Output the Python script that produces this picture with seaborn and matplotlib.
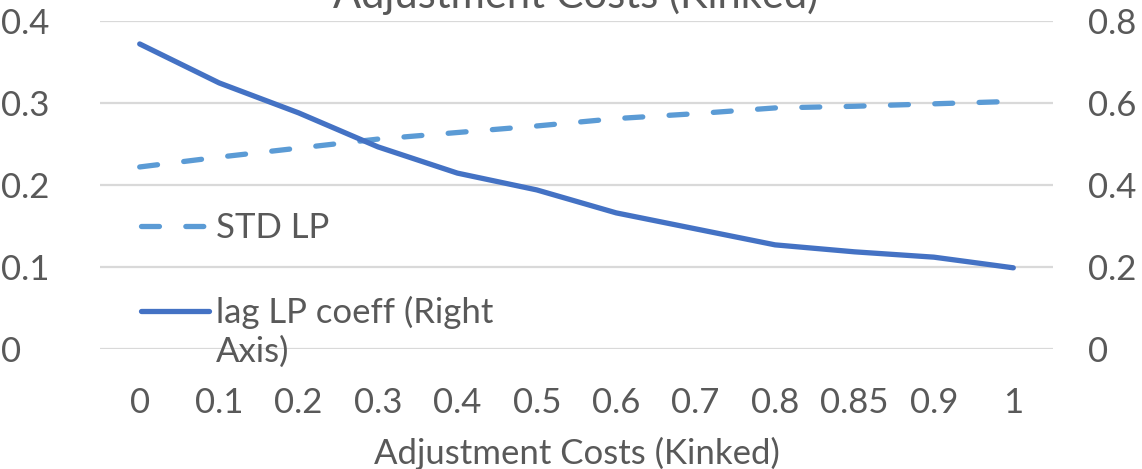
import numpy as np
import pandas as pd
import matplotlib
matplotlib.use("Agg")
import matplotlib.pyplot as plt
import seaborn as sns
from matplotlib.legend_handler import HandlerLine2D

# Data
costs = ["0", "0.1", "0.2", "0.3", "0.4", "0.5", "0.6", "0.7", "0.8", "0.85", "0.9", "1"]
std_lp = [0.222, 0.234, 0.245, 0.256, 0.264, 0.272, 0.281, 0.287, 0.294, 0.296, 0.299, 0.302]
lag_lp_coeff = [0.744, 0.649, 0.576, 0.493, 0.429, 0.388, 0.332, 0.293, 0.254, 0.237, 0.224, 0.198]
left_ticks = [0, 0.1, 0.2, 0.3, 0.4]
right_ticks = [0, 0.2, 0.4, 0.6, 0.8]

sns.set_theme(style="white")
plt.rcParams["font.family"] = ["Lato", "DejaVu Sans"]

TEXT = "#595959"
GRID = "#D9D9D9"
C_STD = "#5B9BD5"
C_LAG = "#4472C4"
FS = 25

df = pd.DataFrame({"cost": costs, "std": std_lp, "lag": lag_lp_coeff})

fig = plt.figure(figsize=(11.42, 4.69), dpi=100)
ax = fig.add_axes([100 / 1142, 1 - 349 / 469, 953 / 1142, 328 / 469])
ax2 = ax.twinx()

sns.lineplot(data=df, x="cost", y="std", ax=ax, sort=False, color=C_STD,
             linewidth=3.8, label="STD LP", legend=False)
sns.lineplot(data=df, x="cost", y="lag", ax=ax2, sort=False, color=C_LAG,
             linewidth=3.8, label="lag LP coeff (Right\nAxis)", legend=False)

std_line = ax.get_lines()[0]
std_line.set_dashes((3.4, 5.0))
std_line.set_dash_capstyle("round")
lag_line = ax2.get_lines()[0]
lag_line.set_solid_capstyle("round")
lag_line.set_solid_joinstyle("round")

ax.set_xlim(-0.5, len(costs) - 0.5)
ax.set_ylim(0, 0.4)
ax2.set_ylim(0, 0.8)
ax.set_yticks(left_ticks)
ax.set_yticklabels([f"{v:g}" for v in left_ticks])
ax2.set_yticks(right_ticks)
ax2.set_yticklabels([f"{v:g}" for v in right_ticks])

for a in (ax, ax2):
    for s in a.spines.values():
        s.set_visible(False)
    a.set_ylabel("")
    a.grid(False)

ax.yaxis.grid(True, color=GRID, linewidth=1.6)
ax.set_axisbelow(True)

ax.tick_params(axis="x", length=0, pad=27, labelsize=FS, labelcolor=TEXT)
ax.tick_params(axis="y", length=0, pad=71, labelsize=FS, labelcolor=TEXT)
for t in ax.get_yticklabels():
    t.set_horizontalalignment("left")
ax2.tick_params(axis="y", length=0, pad=25, labelsize=FS, labelcolor=TEXT)

ax.set_xlabel("Adjustment Costs (Kinked)", fontsize=FS, color=TEXT, labelpad=13)

fig.text(0.504, 1 - 8 / 469, "Adjustment Costs (Kinked)", ha="center",
         va="baseline", fontsize=30, color=TEXT)


class TopLineHandler(HandlerLine2D):
    """Line handle aligned with the first row of a wrapped label."""

    def __init__(self, shift=0.0, **kw):
        super().__init__(**kw)
        self.shift = shift

    def create_artists(self, legend, orig_handle, xdescent, ydescent, width,
                       height, fontsize, trans):
        arts = super().create_artists(legend, orig_handle, xdescent, ydescent,
                                      width, height, fontsize, trans)
        for a in arts:
            a.set_ydata(np.asarray(a.get_ydata()) + self.shift * fontsize)
        return arts


leg = ax2.legend(
    [std_line, lag_line],
    [std_line.get_label(), lag_line.get_label()],
    handler_map={lag_line: TopLineHandler(shift=0.62)},
    loc="upper left",
    bbox_to_anchor=(141 / 1142, 1 - 212 / 469),
    bbox_transform=fig.transFigure,
    frameon=False,
    fontsize=FS,
    handlelength=1.95,
    handletextpad=0.2,
    labelspacing=1.5,
    borderpad=0,
    borderaxespad=0,
)
for t in leg.get_texts():
    t.set_color(TEXT)
    t.set_linespacing(1.25)

fig.savefig("out.png", dpi=100)
